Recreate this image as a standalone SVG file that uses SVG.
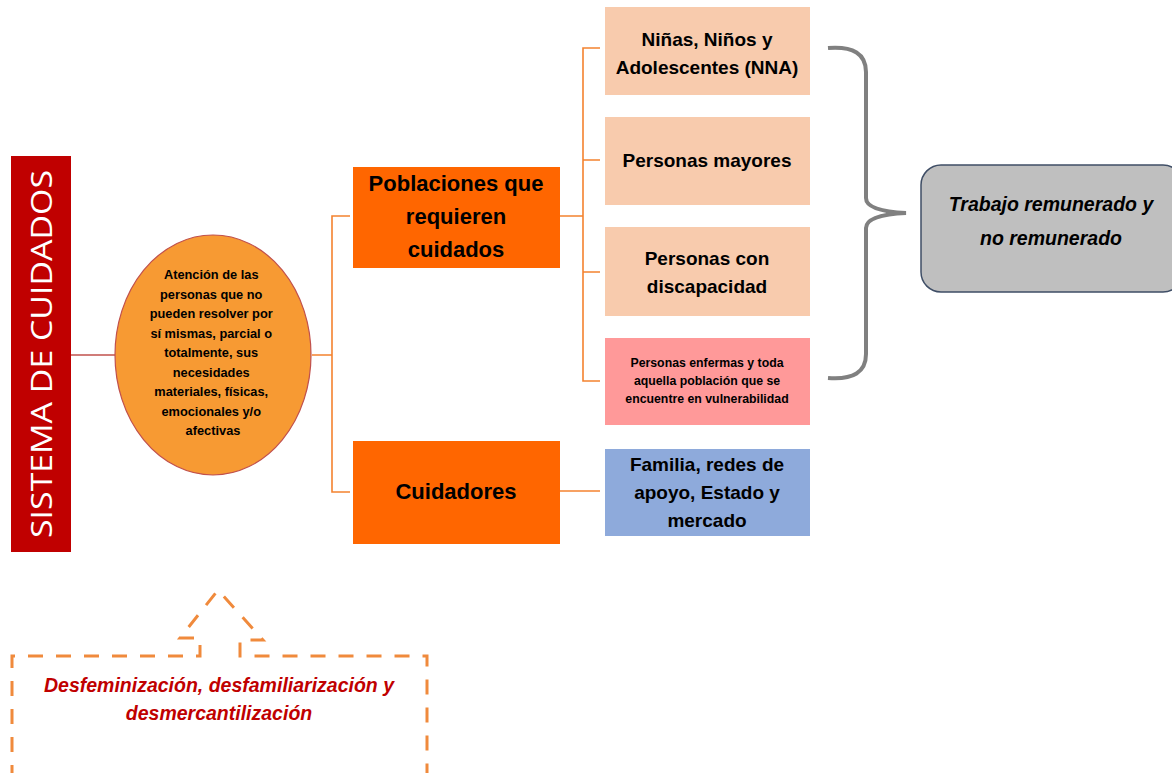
<svg xmlns="http://www.w3.org/2000/svg" width="1172" height="773" viewBox="0 0 1172 773">
<style>
.t{font-family:"Liberation Sans",Arial,sans-serif;font-weight:bold;fill:#000;text-anchor:middle}
.conn{fill:none;stroke:#F4822F;stroke-width:1.6}
.peach{fill:#F8CBAD}
</style>
<rect width="1172" height="773" fill="#fff"/>
<g id="connectors">
<line x1="71" y1="355" x2="115" y2="355" stroke="#C0504D" stroke-width="1.6"/>
<path class="conn" d="M312,355 H332 M350,216 H332 V492 H350"/>
<path class="conn" d="M560,216 H583 M600,48 H583 V381 H600 M583,160 H600 M583,272 H600"/>
<path class="conn" d="M560,491 H600"/>
<path d="M828,48 Q866,45 866,72 L866,198 Q866,211 906,213 Q866,215 866,228 L866,354 Q866,381 828,378" fill="none" stroke="#808080" stroke-width="4"/>
</g>
<g id="sistema">
<rect x="11" y="156" width="60" height="396" fill="#C00000"/>
<text transform="translate(52,354) rotate(-90)" text-anchor="middle" font-family="'Open Sans','Liberation Sans',sans-serif" font-size="29" fill="#fff" textLength="368" lengthAdjust="spacingAndGlyphs">SISTEMA DE CUIDADOS</text>
</g>
<g id="atencion">
<ellipse cx="213" cy="355" rx="98" ry="120" fill="#F79A33" stroke="#C0504D" stroke-width="1.2"/>
<text class="t" font-size="12.8">
<tspan x="213" y="279">Atención de las</tspan>
<tspan x="213" y="298.5">personas que no</tspan>
<tspan x="213" y="318">pueden resolver por</tspan>
<tspan x="213" y="337.5">sí mismas, parcial o</tspan>
<tspan x="213" y="357">totalmente, sus</tspan>
<tspan x="213" y="376.5">necesidades</tspan>
<tspan x="213" y="396">materiales, físicas,</tspan>
<tspan x="213" y="415.5">emocionales y/o</tspan>
<tspan x="213" y="435">afectivas</tspan>
</text>
</g>
<g id="poblaciones">
<rect x="353" y="167" width="207" height="101" fill="#FF6600"/>
<text class="t" font-size="22"><tspan x="456" y="191">Poblaciones que</tspan><tspan x="456" y="224">requieren</tspan><tspan x="456" y="257">cuidados</tspan></text>
</g>
<g id="cuidadores">
<rect x="353" y="441" width="207" height="103" fill="#FF6600"/>
<text class="t" font-size="22" x="456" y="499">Cuidadores</text>
</g>
<g id="nna">
<rect class="peach" x="605" y="7" width="205" height="88"/>
<text class="t" font-size="19"><tspan x="707" y="46">Niñas, Niños y</tspan><tspan x="707" y="74">Adolescentes (NNA)</tspan></text>
</g>
<g id="mayores">
<rect class="peach" x="605" y="117" width="205" height="88"/>
<text class="t" font-size="19" x="707" y="167">Personas mayores</text>
</g>
<g id="discapacidad">
<rect class="peach" x="605" y="227" width="205" height="89"/>
<text class="t" font-size="19"><tspan x="707" y="265">Personas con</tspan><tspan x="707" y="293">discapacidad</tspan></text>
</g>
<g id="enfermas">
<rect x="605" y="338" width="205" height="87" fill="#FF9999"/>
<text class="t" font-size="12.3"><tspan x="707" y="367">Personas enfermas y toda</tspan><tspan x="707" y="385">aquella población que se</tspan><tspan x="707" y="403">encuentre en vulnerabilidad</tspan></text>
</g>
<g id="familia">
<rect x="605" y="449" width="205" height="87" fill="#8EAADB"/>
<text class="t" font-size="19"><tspan x="707" y="471">Familia, redes de</tspan><tspan x="707" y="499">apoyo, Estado y</tspan><tspan x="707" y="527">mercado</tspan></text>
</g>
<g id="trabajo">
<rect x="921" y="165" width="262" height="127" rx="20" fill="#BFBFBF" stroke="#3F4E66" stroke-width="1.5"/>
<text class="t" font-size="19.5" font-style="italic"><tspan x="1051" y="211">Trabajo remunerado y</tspan><tspan x="1051" y="245">no remunerado</tspan></text>
</g>
<g id="desfeminizacion">
<path d="M12,780 V656 H200 V638 H180 L218,590 L263,640 H240 V656 H427 V780" fill="none" stroke="#F08A3C" stroke-width="3" stroke-dasharray="15,13"/>
<text class="t" font-size="19.5" font-style="italic" style="fill:#C00000"><tspan x="219" y="692">Desfeminización, desfamiliarización y</tspan><tspan x="219" y="720">desmercantilización</tspan></text>
</g>
</svg>
